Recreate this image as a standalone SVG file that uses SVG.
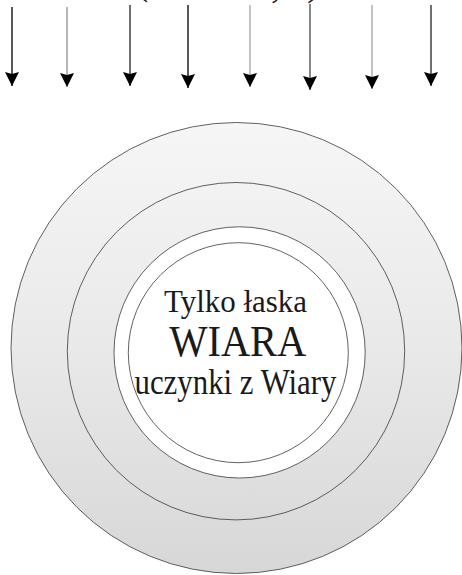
<svg xmlns="http://www.w3.org/2000/svg" width="462" height="575" viewBox="0 0 462 575">
  <style>
    .ring { fill: none; stroke: #3a3a3a; stroke-width: 0.8; }
    .lbl { font-family: "Liberation Serif", "Times New Roman", serif; fill: #1a1a1a; text-anchor: start; }
    .arr { stroke-width: 1.4; fill: none; marker-end: url(#ah); }
  </style>
  <defs>
    <linearGradient id="g" x1="0" y1="0" x2="0" y2="1">
      <stop offset="0" stop-color="#f6f6f6"/>
      <stop offset="0.5" stop-color="#e9e9e9"/>
      <stop offset="1" stop-color="#d7d7d7"/>
    </linearGradient>
    <marker id="ah" markerUnits="userSpaceOnUse" markerWidth="16" markerHeight="16" refX="14" refY="7" orient="auto" viewBox="0 0 16 14">
      <path d="M0,0 L14,7 L0,14 L2,7 Z" fill="#000"/>
    </marker>
  </defs>

  <g id="top-text">
    <text class="lbl" x="135" y="-6" font-size="40">(</text>
    <text class="lbl" x="271" y="-3.5" font-size="40">,</text>
    <text class="lbl" x="307" y="-5" font-size="40">)</text>
  </g>

  <g id="connectors">
    <line class="arr" x1="12" y1="7" x2="12" y2="86" stroke="#111"/>
    <line class="arr" x1="67" y1="7" x2="67" y2="87" stroke="#999"/>
    <line class="arr" x1="130" y1="5" x2="130" y2="86" stroke="#333"/>
    <line class="arr" x1="188" y1="5" x2="188" y2="88" stroke="#111"/>
    <line class="arr" x1="250" y1="5" x2="250" y2="87" stroke="#aaa"/>
    <line class="arr" x1="310" y1="4" x2="310" y2="90" stroke="#555"/>
    <line class="arr" x1="372" y1="5" x2="372" y2="89" stroke="#aaa"/>
    <line class="arr" x1="431" y1="5" x2="431" y2="86" stroke="#333"/>
  </g>

  <g id="outer-circle">
    <circle cx="236.5" cy="348" r="225.5" fill="url(#g)" stroke="#3a3a3a" stroke-width="0.8"/>
  </g>
  <g id="second-circle">
    <circle class="ring" cx="236" cy="351.2" r="168.7"/>
  </g>
  <g id="third-circle">
    <circle cx="239.6" cy="352.4" r="125.6" fill="#fff" stroke="#3a3a3a" stroke-width="0.8"/>
  </g>
  <g id="inner-circle">
    <circle class="ring" cx="238.3" cy="352.7" r="110"/>
    <text class="lbl" x="164" y="311.7" font-size="32" textLength="143" lengthAdjust="spacingAndGlyphs">Tylko łaska</text>
    <text class="lbl" x="169.3" y="356" font-size="44" textLength="137" lengthAdjust="spacingAndGlyphs">WIARA</text>
    <text class="lbl" x="134.5" y="394.3" font-size="35" textLength="202" lengthAdjust="spacingAndGlyphs">uczynki z Wiary</text>
  </g>
</svg>
